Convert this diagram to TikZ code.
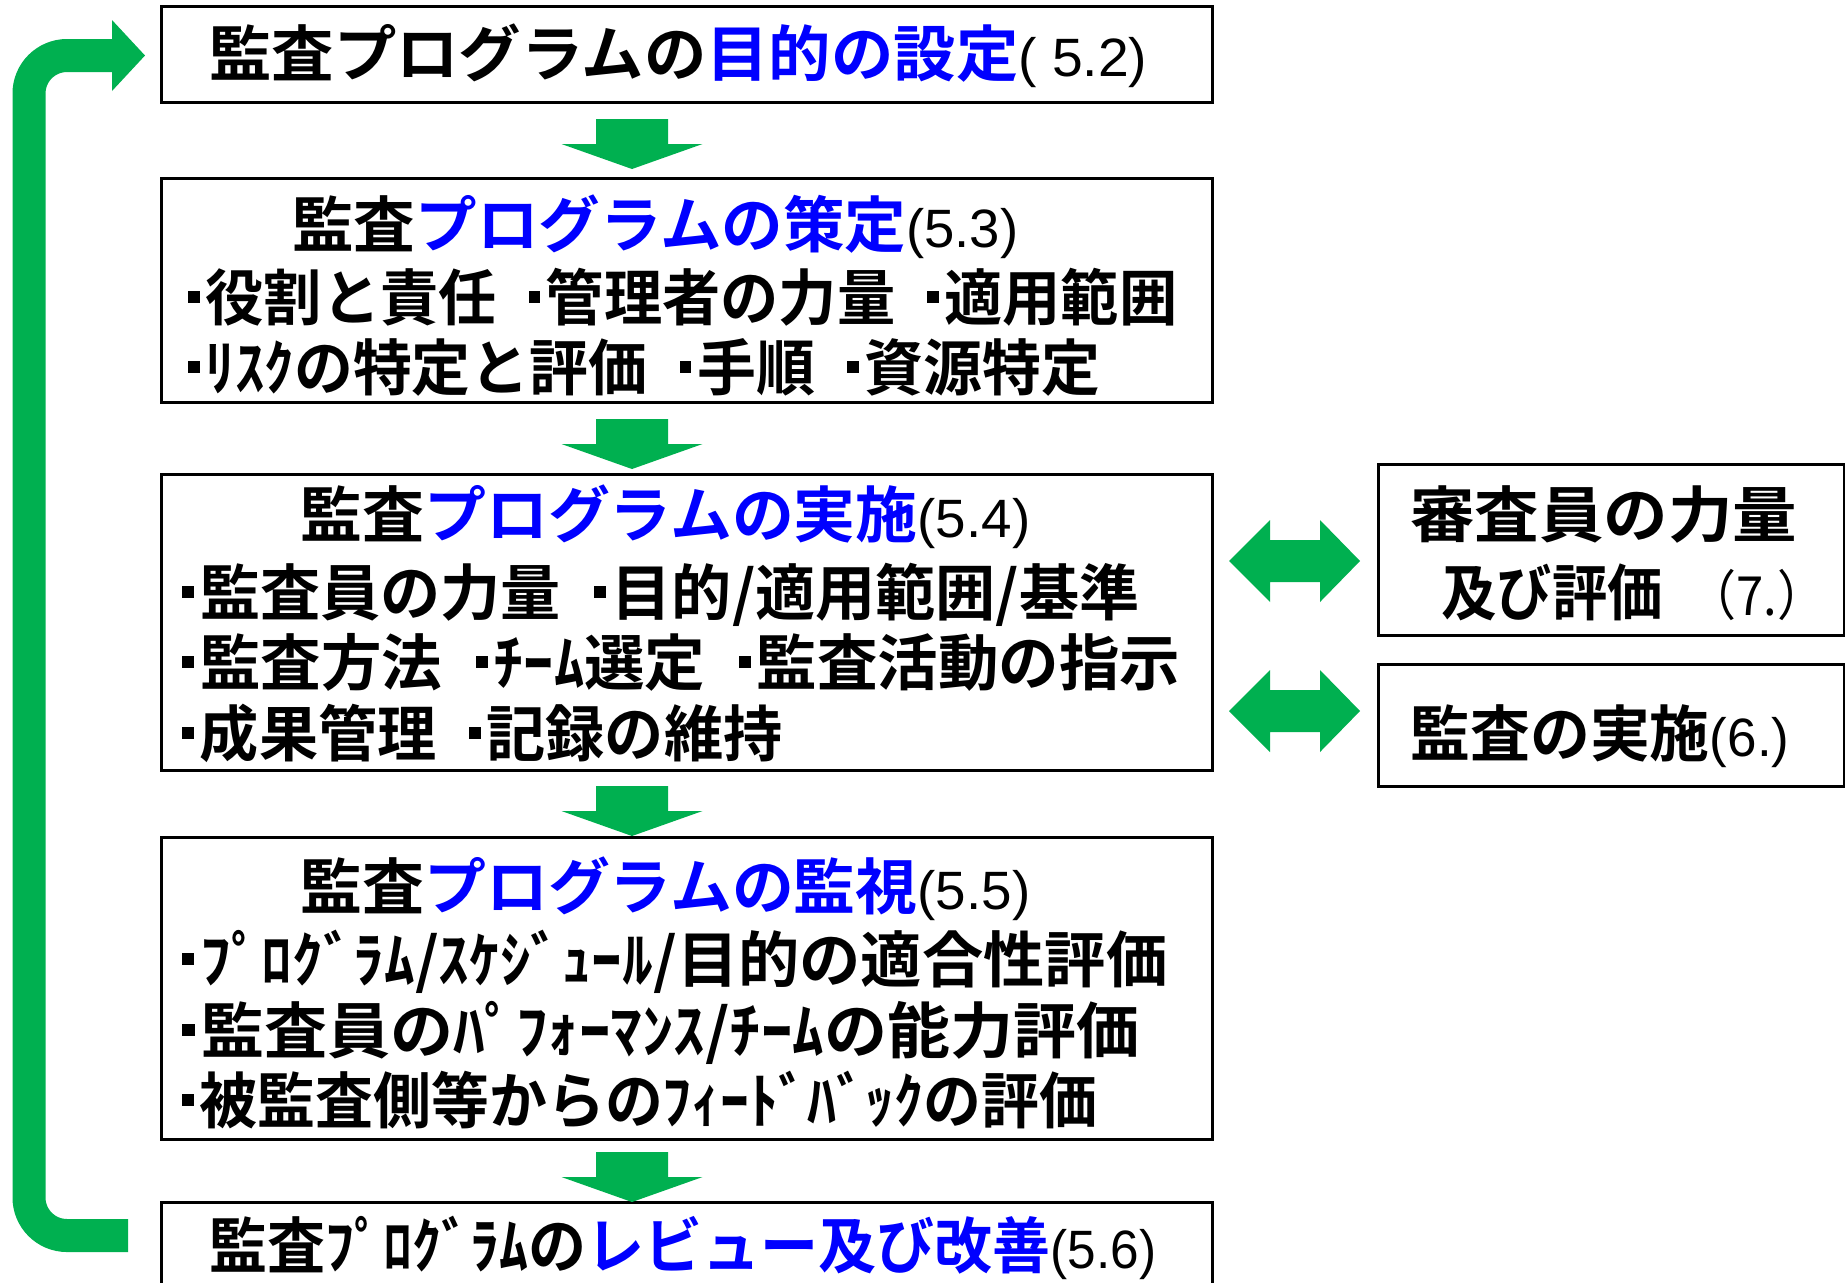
\documentclass[tikz,border=0pt]{standalone}
\usepackage{fontspec}
\setmainfont{Noto Sans CJK JP}[BoldFont={* Bold}]
\newfontfamily\lat{Liberation Sans}
\usepackage{graphicx}
\definecolor{grn}{HTML}{00B050}
\definecolor{blu}{HTML}{0000FF}
\newsavebox\fitbox
\newlength\fitlen
\newcommand\fitw[2]{\sbox\fitbox{#2}\setlength\fitlen{\wd\fitbox}\pgfmathsetmacro\fitr{#1*0.5/\fitlen}\scalebox{\fitr}[1]{\usebox\fitbox}}
\newcommand\jpf{\fontsize{30.5}{36}\selectfont\bfseries}
\newcommand\num[1]{{\lat\mdseries\fontsize{27}{30}\selectfont #1}}
\newcommand\bl[1]{\textcolor{blu}{#1}}
\newcommand\bul{\rule[8.6pt]{6pt}{6pt}\hspace{3pt}}
\newcommand\gap{\hspace{0.55em}}
\newcommand\dnarr[2]{\fill[grn] (#1-36,#2) -- (#1+36,#2) -- (#1+36,#2+25) -- (#1+70.5,#2+25) -- (#1,#2+50) -- (#1-70.5,#2+25) -- (#1-36,#2+25) -- cycle;}
\newcommand\dblarr[1]{\fill[grn] (1229,#1) -- (1270,#1-41) -- (1270,#1-21) -- (1320,#1-21) -- (1320,#1-41) -- (1360,#1) -- (1320,#1+41) -- (1320,#1+21) -- (1270,#1+21) -- (1270,#1+41) -- cycle;}
\tikzset{
  box/.style={draw=black, line width=1.5pt, fill=white, inner sep=0pt, rectangle},
  txt/.style={anchor=base west, inner sep=0pt, font=\jpf},
}
\begin{document}
\begin{tikzpicture}[x=0.5pt,y=-0.5pt]
\clip (0,0) rectangle (1845,1282);
\fill[white] (0,0) rectangle (1845,1282);
% boxes
\node[box, minimum width=525.5pt, minimum height=48pt] (b1) at (686.5,54) {};
\node[box, minimum width=525.5pt, minimum height=112pt] (b2) at (686.5,290) {};
\node[box, minimum width=525.5pt, minimum height=148pt] (b3) at (686.5,622) {};
\node[box, minimum width=525.5pt, minimum height=151pt] (b4) at (686.5,988) {};
\node[box, minimum width=525.5pt, minimum height=60pt] (b5) at (686.5,1262) {};
\node[box, minimum width=233pt, minimum height=85.5pt] (ra) at (1611,549.5) {};
\node[box, minimum width=233pt, minimum height=61pt] (rb) at (1611,725) {};
% down arrows
\dnarr{632}{119}
\dnarr{632}{419}
\dnarr{632}{786}
\dnarr{632}{1152}
% double arrows
\dblarr{561}
\dblarr{711}
% loop arrow
\coordinate (lpa) at (128,1235.5);
\coordinate (lpb) at (29,1235.5);
\coordinate (lpc) at (29,55.5);
\coordinate (lpd) at (113,55.5);
\draw[grn, line width=16.5pt, rounded corners=19pt] (lpa) -- (lpb) -- (lpc) -- (lpd);
\fill[grn] (112,20) -- (145,55.5) -- (112,91) -- cycle;
% texts
\node[txt] (t1) at (209,76) {\fitw{938}{監査プログラムの\bl{目的の設定}\num{( 5.2)}}};
\node[txt] (t2) at (292,247) {\fitw{726}{監査\bl{プログラムの策定}\num{(5.3)}}};
\node[txt] (l2a) at (188,320) {\fitw{989}{\bul 役割と責任\gap\bul 管理者の力量\gap\bul 適用範囲}};
\node[txt] (l2b) at (188,390) {\fitw{912}{\bul ﾘｽｸの特定と評価\gap\bul 手順\gap\bul 資源特定}};
\node[txt] (t3) at (300,537) {\fitw{730}{監査\bl{プログラムの実施}\num{(5.4)}}};
\node[txt] (l3a) at (182,615) {\fitw{957}{\bul 監査員の力量\gap\bul 目的/適用範囲/基準}};
\node[txt] (l3b) at (182,685) {\fitw{998}{\bul 監査方法\gap\bul ﾁｰﾑ選定\gap\bul 監査活動の指示}};
\node[txt] (l3c) at (182,756) {\fitw{600}{\bul 成果管理\gap\bul 記録の維持}};
\node[txt] (t4) at (300,909) {\fitw{730}{監査\bl{プログラムの監視}\num{(5.5)}}};
\node[txt] (l4a) at (182,982) {\fitw{985}{\bul ﾌﾟﾛｸﾞﾗﾑ/ｽｹｼﾞｭｰﾙ/目的の適合性評価}};
\node[txt] (l4b) at (182,1053) {\fitw{957}{\bul 監査員のﾊﾟﾌｫｰﾏﾝｽ/ﾁｰﾑの能力評価}};
\node[txt] (l4c) at (182,1123) {\fitw{915}{\bul 被監査側等からのﾌｨｰﾄﾞﾊﾞｯｸの評価}};
\node[txt] (t5) at (209,1268) {\fitw{947}{監査ﾌﾟﾛｸﾞﾗﾑの\bl{レビュー及び改善}\num{(5.6)}}};
\node[txt] (ra1) at (1410,537) {\fitw{387}{審査員の力量}};
\node[txt] (ra2) at (1441,615) {\fitw{385}{及び評価\hspace{0.45em}{\mdseries\fontsize{27}{28}\selectfont （7.）}}};
\node[txt] (rb1) at (1410,756) {\fitw{379}{監査の実施\num{(6.)}}};
\end{tikzpicture}
\end{document}
